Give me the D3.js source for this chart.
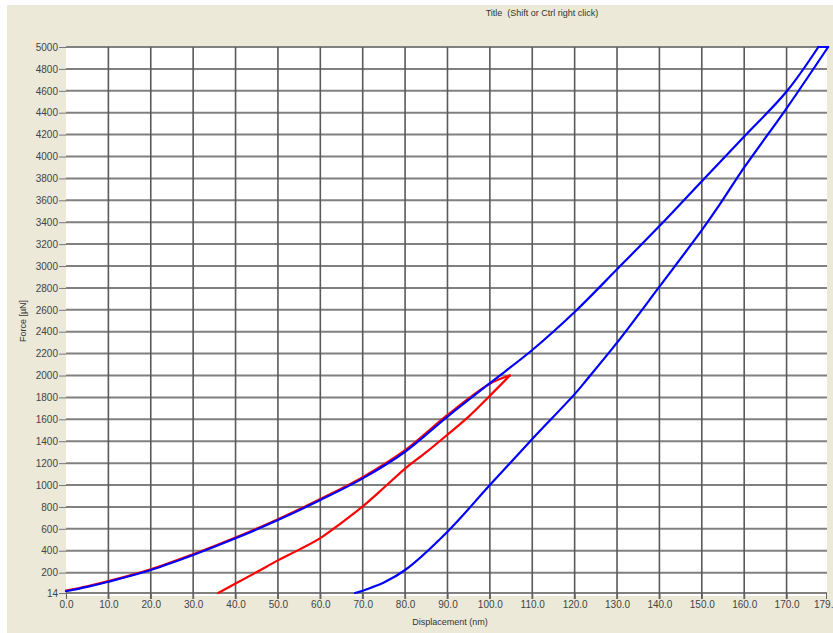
<!DOCTYPE html>
<html>
<head>
<meta charset="utf-8">
<script src="https://cdn.jsdelivr.net/npm/d3@7"></script>
<style>
  body { margin: 0; background: #fff; }
  text { font-family: 'Liberation Sans', Arial, sans-serif; }
</style>
</head>
<body>
<div id="chart"></div>
<script>
// tick values
const xTicks = [0, 10, 20, 30, 40, 50, 60, 70, 80, 90, 100, 110, 120, 130, 140, 150, 160, 170, 179.3]
const yTicks = [14, 200, 400, 600, 800, 1000, 1200, 1400, 1600, 1800, 2000, 2200, 2400, 2600,
  2800, 3000, 3200, 3400, 3600, 3800, 4000, 4200, 4400, 4600, 4800, 5000]

// red run
const redLoadDisp = [0, 5, 10, 20, 30, 40, 50, 60, 70, 80, 90, 100, 104.7]
const redLoadForce = [36, 76, 122, 230, 368, 520, 688, 872, 1072, 1318, 1640, 1925, 2000]
const redUnloadDisp = [104.7, 99.6, 95, 90, 85, 80, 75, 70, 65, 60, 55, 50, 45, 40, 35.9]
const redUnloadForce = [2000, 1800, 1625, 1460, 1300, 1150, 975, 805, 655, 515, 410, 312, 205, 100, 14]

// blue run
const blueLoadDisp = [0, 5, 10, 20, 30, 40, 50, 60, 70, 80, 90, 100, 110, 120, 130, 140, 150, 160, 170, 177.5]
const blueLoadForce = [30, 70, 117, 224, 361, 513, 680, 863, 1061, 1304, 1625, 1930, 2233, 2580, 2970, 3365, 3775, 4182, 4593, 5000]
const blueUnloadDisp = [179.8, 170, 160, 154.2, 150, 140, 130, 122.8, 120, 110, 100, 90, 80, 75, 70, 68.2]
const blueUnloadForce = [5000, 4440, 3900, 3560, 3328, 2811, 2300, 1959, 1830, 1420, 1000, 574, 224, 110, 35, 14]

const dimensions = {
  width: 833,
  height: 633,
  left: 66,
  right: 826,
  top: 47,
  bottom: 593,
}

const svg = d3
  .select('#chart')
  .append('svg')
  .attr('width', dimensions.width)
  .attr('height', dimensions.height)

// beige window panel
svg
  .append('rect')
  .attr('x', 7)
  .attr('y', 5)
  .attr('width', dimensions.width - 7)
  .attr('height', dimensions.height - 5)
  .attr('fill', '#ece9d8')

const xScale = d3.scaleLinear().domain([0, 179.3]).range([dimensions.left, dimensions.right])
const yScale = d3.scaleLinear().domain([14, 5000]).range([dimensions.bottom, dimensions.top])

// white plot area
svg
  .append('rect')
  .attr('x', dimensions.left)
  .attr('y', dimensions.top - 1)
  .attr('width', dimensions.right - dimensions.left + 1)
  .attr('height', dimensions.bottom - dimensions.top + 4)
  .attr('fill', '#fff')

// grid lines
svg
  .append('g')
  .selectAll('line')
  .data(yTicks)
  .join('line')
  .attr('x1', dimensions.left)
  .attr('x2', dimensions.right + 1)
  .attr('y1', (d) => yScale(d))
  .attr('y2', (d) => yScale(d))
  .attr('stroke', '#808080')
  .attr('stroke-width', 2)

svg
  .append('g')
  .selectAll('line')
  .data(xTicks.slice(1, -1))
  .join('line')
  .attr('x1', (d) => xScale(d))
  .attr('x2', (d) => xScale(d))
  .attr('y1', dimensions.top)
  .attr('y2', dimensions.bottom + 6)
  .attr('stroke', '#5a5a5a')
  .attr('stroke-width', 1.6)

// axes
const yAxis = d3.axisLeft(yScale).tickValues(yTicks).tickSize(7).tickPadding(1).tickFormat(d3.format('d'))
const yAxisGroup = svg
  .append('g')
  .attr('transform', `translate(${dimensions.left}, 0)`)
  .call(yAxis)
yAxisGroup.select('.domain').remove()
yAxisGroup.selectAll('line').attr('stroke', '#777')
yAxisGroup.selectAll('text').attr('fill', '#444').style('font-size', '10px')

const xAxis = d3.axisBottom(xScale).tickValues(xTicks).tickSize(6).tickPadding(2).tickFormat(d3.format('.1f'))
const xAxisGroup = svg
  .append('g')
  .attr('transform', `translate(0, ${dimensions.bottom})`)
  .call(xAxis)
xAxisGroup.select('.domain').remove()
xAxisGroup.selectAll('line').attr('stroke', '#666')
xAxisGroup.selectAll('text').attr('fill', '#444').style('font-size', '10px')

// curves: each run is a loading branch, a turnaround and an unloading branch
const smoothLine = d3
  .line()
  .x((d) => xScale(d[0]))
  .y((d) => yScale(d[1]))
  .curve(d3.curveCatmullRom.alpha(0.5))

const drawRun = (loadX, loadY, unloadX, unloadY, color) => {
  const load = d3.zip(loadX, loadY)
  const unload = d3.zip(unloadX, unloadY)
  const turn = [load[load.length - 1], unload[0]]
  const g = svg.append('g')
  ;[load, turn, unload].forEach((branch) => {
    g.append('path')
      .datum(branch)
      .attr('d', smoothLine)
      .attr('fill', 'none')
      .attr('stroke', color)
      .attr('stroke-width', 2.2)
      .attr('stroke-linejoin', 'round')
      .attr('stroke-linecap', 'round')
  })
}

drawRun(redLoadDisp, redLoadForce, redUnloadDisp, redUnloadForce, '#ff0000')
drawRun(blueLoadDisp, blueLoadForce, blueUnloadDisp, blueUnloadForce, '#0000ff')

// labels
svg
  .append('text')
  .attr('x', 542)
  .attr('y', 16)
  .attr('text-anchor', 'middle')
  .attr('fill', '#333')
  .style('font-size', '9px')
  .style('white-space', 'pre')
  .text('Title  (Shift or Ctrl right click)')

svg
  .append('text')
  .attr('x', 450)
  .attr('y', 625)
  .attr('text-anchor', 'middle')
  .attr('fill', '#333')
  .style('font-size', '9px')
  .text('Displacement (nm)')

svg
  .append('text')
  .attr('transform', 'translate(26, 321) rotate(-90)')
  .attr('text-anchor', 'middle')
  .attr('fill', '#333')
  .style('font-size', '9px')
  .text('Force [µN]')
</script>
</body>
</html>
